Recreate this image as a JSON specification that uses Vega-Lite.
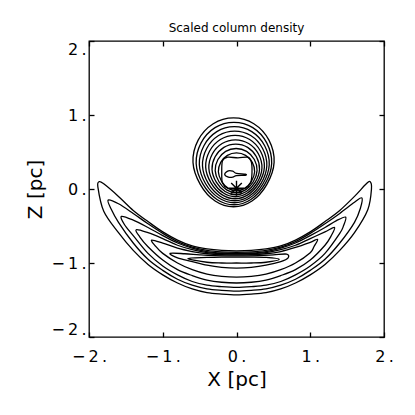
{
"$schema": "https://vega.github.io/schema/vega-lite/v6.json",
"width": 295, "height": 296,
"autosize": "none",
"padding": {"left": 89, "top": 41, "right": 31, "bottom": 78},
"background": "white",
"title": {"text": "Scaled column density", "font": "DejaVu Sans", "fontSize": 12, "fontWeight": "normal", "color": "black", "offset": 5},
"config": {
  "view": {"stroke": "black", "strokeWidth": 1.3},
  "axis": {"grid": false, "domain": false, "tickColor": "black", "tickWidth": 1.3, "tickSize": -5, "labelColor": "black", "labelFont": "DejaVu Sans", "labelFontSize": 16, "titleFont": "DejaVu Sans", "titleFontSize": 20, "titleFontWeight": "normal", "titleColor": "black", "labelOverlap": false, "labelBound": false}
},
"resolve": {"axis": {"x": "independent", "y": "independent"}},
"layer": [
{
"data": {"values": [
{"g":"b0","i":0,"x":0.51,"z":0.36},{"g":"b0","i":1,"x":0.44,"z":0.66},{"g":"b0","i":2,"x":0.235,"z":0.882},{"g":"b0","i":3,"x":-0.04,"z":0.96},{"g":"b0","i":4,"x":-0.315,"z":0.882},{"g":"b0","i":5,"x":-0.52,"z":0.66},{"g":"b0","i":6,"x":-0.59,"z":0.36},{"g":"b0","i":7,"x":-0.49,"z":0.06},{"g":"b0","i":8,"x":-0.29,"z":-0.162},{"g":"b0","i":9,"x":-0.04,"z":-0.24},{"g":"b0","i":10,"x":0.21,"z":-0.162},{"g":"b0","i":11,"x":0.41,"z":0.06},
{"g":"b1","i":0,"x":0.477,"z":0.344},{"g":"b1","i":1,"x":0.41,"z":0.623},{"g":"b1","i":2,"x":0.221,"z":0.829},{"g":"b1","i":3,"x":-0.035,"z":0.901},{"g":"b1","i":4,"x":-0.291,"z":0.829},{"g":"b1","i":5,"x":-0.48,"z":0.623},{"g":"b1","i":6,"x":-0.547,"z":0.344},{"g":"b1","i":7,"x":-0.455,"z":0.065},{"g":"b1","i":8,"x":-0.265,"z":-0.141},{"g":"b1","i":9,"x":-0.035,"z":-0.213},{"g":"b1","i":10,"x":0.195,"z":-0.141},{"g":"b1","i":11,"x":0.385,"z":0.065},
{"g":"b2","i":0,"x":0.444,"z":0.328},{"g":"b2","i":1,"x":0.382,"z":0.585},{"g":"b2","i":2,"x":0.207,"z":0.775},{"g":"b2","i":3,"x":-0.03,"z":0.842},{"g":"b2","i":4,"x":-0.267,"z":0.775},{"g":"b2","i":5,"x":-0.442,"z":0.585},{"g":"b2","i":6,"x":-0.504,"z":0.328},{"g":"b2","i":7,"x":-0.419,"z":0.071},{"g":"b2","i":8,"x":-0.243,"z":-0.119},{"g":"b2","i":9,"x":-0.03,"z":-0.186},{"g":"b2","i":10,"x":0.183,"z":-0.119},{"g":"b2","i":11,"x":0.359,"z":0.071},
{"g":"b3","i":0,"x":0.411,"z":0.312},{"g":"b3","i":1,"x":0.354,"z":0.548},{"g":"b3","i":2,"x":0.193,"z":0.722},{"g":"b3","i":3,"x":-0.025,"z":0.783},{"g":"b3","i":4,"x":-0.243,"z":0.722},{"g":"b3","i":5,"x":-0.404,"z":0.548},{"g":"b3","i":6,"x":-0.461,"z":0.312},{"g":"b3","i":7,"x":-0.383,"z":0.076},{"g":"b3","i":8,"x":-0.221,"z":-0.098},{"g":"b3","i":9,"x":-0.025,"z":-0.159},{"g":"b3","i":10,"x":0.171,"z":-0.098},{"g":"b3","i":11,"x":0.333,"z":0.076},
{"g":"b4","i":0,"x":0.378,"z":0.296},{"g":"b4","i":1,"x":0.326,"z":0.51},{"g":"b4","i":2,"x":0.179,"z":0.668},{"g":"b4","i":3,"x":-0.02,"z":0.724},{"g":"b4","i":4,"x":-0.219,"z":0.668},{"g":"b4","i":5,"x":-0.366,"z":0.51},{"g":"b4","i":6,"x":-0.418,"z":0.296},{"g":"b4","i":7,"x":-0.346,"z":0.082},{"g":"b4","i":8,"x":-0.199,"z":-0.076},{"g":"b4","i":9,"x":-0.02,"z":-0.132},{"g":"b4","i":10,"x":0.159,"z":-0.076},{"g":"b4","i":11,"x":0.306,"z":0.082},
{"g":"b5","i":0,"x":0.345,"z":0.28},{"g":"b5","i":1,"x":0.298,"z":0.473},{"g":"b5","i":2,"x":0.165,"z":0.615},{"g":"b5","i":3,"x":-0.015,"z":0.665},{"g":"b5","i":4,"x":-0.195,"z":0.615},{"g":"b5","i":5,"x":-0.328,"z":0.473},{"g":"b5","i":6,"x":-0.375,"z":0.28},{"g":"b5","i":7,"x":-0.31,"z":0.087},{"g":"b5","i":8,"x":-0.177,"z":-0.055},{"g":"b5","i":9,"x":-0.015,"z":-0.105},{"g":"b5","i":10,"x":0.147,"z":-0.055},{"g":"b5","i":11,"x":0.28,"z":0.087},
{"g":"b6","i":0,"x":0.312,"z":0.264},{"g":"b6","i":1,"x":0.27,"z":0.435},{"g":"b6","i":2,"x":0.151,"z":0.562},{"g":"b6","i":3,"x":-0.01,"z":0.606},{"g":"b6","i":4,"x":-0.171,"z":0.562},{"g":"b6","i":5,"x":-0.29,"z":0.435},{"g":"b6","i":6,"x":-0.332,"z":0.264},{"g":"b6","i":7,"x":-0.274,"z":0.093},{"g":"b6","i":8,"x":-0.155,"z":-0.034},{"g":"b6","i":9,"x":-0.01,"z":-0.078},{"g":"b6","i":10,"x":0.135,"z":-0.034},{"g":"b6","i":11,"x":0.254,"z":0.093},
{"g":"b7","i":0,"x":0.279,"z":0.248},{"g":"b7","i":1,"x":0.242,"z":0.398},{"g":"b7","i":2,"x":0.137,"z":0.508},{"g":"b7","i":3,"x":-0.005,"z":0.547},{"g":"b7","i":4,"x":-0.147,"z":0.508},{"g":"b7","i":5,"x":-0.252,"z":0.398},{"g":"b7","i":6,"x":-0.289,"z":0.248},{"g":"b7","i":7,"x":-0.238,"z":0.098},{"g":"b7","i":8,"x":-0.133,"z":-0.012},{"g":"b7","i":9,"x":-0.005,"z":-0.051},{"g":"b7","i":10,"x":0.123,"z":-0.012},{"g":"b7","i":11,"x":0.228,"z":0.098},
{"g":"b8","i":0,"x":0.246,"z":0.232},{"g":"b8","i":1,"x":0.214,"z":0.36},{"g":"b8","i":2,"x":0.123,"z":0.455},{"g":"b8","i":3,"x":0.0,"z":0.488},{"g":"b8","i":4,"x":-0.123,"z":0.455},{"g":"b8","i":5,"x":-0.214,"z":0.36},{"g":"b8","i":6,"x":-0.246,"z":0.232},{"g":"b8","i":7,"x":-0.202,"z":0.104},{"g":"b8","i":8,"x":-0.111,"z":0.009},{"g":"b8","i":9,"x":0.0,"z":-0.024},{"g":"b8","i":10,"x":0.111,"z":0.009},{"g":"b8","i":11,"x":0.202,"z":0.104},
{"g":"b9","i":0,"x":0.21,"z":0.22},{"g":"b9","i":1,"x":0.2,"z":0.37},{"g":"b9","i":2,"x":0.15,"z":0.43},{"g":"b9","i":3,"x":0.02,"z":0.42},{"g":"b9","i":4,"x":-0.12,"z":0.43},{"g":"b9","i":5,"x":-0.19,"z":0.38},{"g":"b9","i":6,"x":-0.2,"z":0.22},{"g":"b9","i":7,"x":-0.19,"z":0.08},{"g":"b9","i":8,"x":-0.12,"z":0.01},{"g":"b9","i":9,"x":0.0,"z":0.0},{"g":"b9","i":10,"x":0.12,"z":0.01},{"g":"b9","i":11,"x":0.19,"z":0.08},
{"g":"b10","i":0,"x":0.12,"z":0.2},{"g":"b10","i":1,"x":0.0,"z":0.21},{"g":"b10","i":2,"x":-0.05,"z":0.24},{"g":"b10","i":3,"x":-0.11,"z":0.245},{"g":"b10","i":4,"x":-0.16,"z":0.2},{"g":"b10","i":5,"x":-0.11,"z":0.16},{"g":"b10","i":6,"x":-0.05,"z":0.16},{"g":"b10","i":7,"x":0.0,"z":0.18},{"g":"b10","i":8,"x":0.12,"z":0.185},
{"g":"c1","i":0,"x":-1.86,"z":0.1},{"g":"c1","i":1,"x":-1.8,"z":0.07},{"g":"c1","i":2,"x":-1.6,"z":-0.1},{"g":"c1","i":3,"x":-1.4,"z":-0.29},{"g":"c1","i":4,"x":-1.2,"z":-0.44},{"g":"c1","i":5,"x":-1.0,"z":-0.58},{"g":"c1","i":6,"x":-0.8,"z":-0.69},{"g":"c1","i":7,"x":-0.6,"z":-0.77},{"g":"c1","i":8,"x":-0.4,"z":-0.81},{"g":"c1","i":9,"x":-0.2,"z":-0.83},{"g":"c1","i":10,"x":0.0,"z":-0.835},{"g":"c1","i":11,"x":0.2,"z":-0.83},{"g":"c1","i":12,"x":0.4,"z":-0.81},{"g":"c1","i":13,"x":0.6,"z":-0.77},{"g":"c1","i":14,"x":0.8,"z":-0.69},{"g":"c1","i":15,"x":1.0,"z":-0.58},{"g":"c1","i":16,"x":1.2,"z":-0.44},{"g":"c1","i":17,"x":1.4,"z":-0.29},{"g":"c1","i":18,"x":1.6,"z":-0.1},{"g":"c1","i":19,"x":1.75,"z":0.06},{"g":"c1","i":20,"x":1.81,"z":0.1},{"g":"c1","i":21,"x":1.83,"z":0.0},{"g":"c1","i":22,"x":1.78,"z":-0.28},{"g":"c1","i":23,"x":1.6,"z":-0.59},{"g":"c1","i":24,"x":1.4,"z":-0.83},{"g":"c1","i":25,"x":1.2,"z":-1.02},{"g":"c1","i":26,"x":1.0,"z":-1.16},{"g":"c1","i":27,"x":0.8,"z":-1.27},{"g":"c1","i":28,"x":0.6,"z":-1.35},{"g":"c1","i":29,"x":0.4,"z":-1.4},{"g":"c1","i":30,"x":0.2,"z":-1.42},{"g":"c1","i":31,"x":0.0,"z":-1.43},{"g":"c1","i":32,"x":-0.2,"z":-1.42},{"g":"c1","i":33,"x":-0.4,"z":-1.4},{"g":"c1","i":34,"x":-0.6,"z":-1.35},{"g":"c1","i":35,"x":-0.8,"z":-1.27},{"g":"c1","i":36,"x":-1.0,"z":-1.16},{"g":"c1","i":37,"x":-1.2,"z":-1.02},{"g":"c1","i":38,"x":-1.4,"z":-0.83},{"g":"c1","i":39,"x":-1.6,"z":-0.59},{"g":"c1","i":40,"x":-1.8,"z":-0.3},{"g":"c1","i":41,"x":-1.88,"z":0.03},
{"g":"c2","i":0,"x":-1.74,"z":-0.15},{"g":"c2","i":1,"x":-1.6,"z":-0.2},{"g":"c2","i":2,"x":-1.4,"z":-0.33},{"g":"c2","i":3,"x":-1.2,"z":-0.47},{"g":"c2","i":4,"x":-1.0,"z":-0.6},{"g":"c2","i":5,"x":-0.8,"z":-0.71},{"g":"c2","i":6,"x":-0.6,"z":-0.785},{"g":"c2","i":7,"x":-0.4,"z":-0.83},{"g":"c2","i":8,"x":-0.2,"z":-0.85},{"g":"c2","i":9,"x":0.0,"z":-0.855},{"g":"c2","i":10,"x":0.2,"z":-0.85},{"g":"c2","i":11,"x":0.4,"z":-0.83},{"g":"c2","i":12,"x":0.6,"z":-0.785},{"g":"c2","i":13,"x":0.8,"z":-0.71},{"g":"c2","i":14,"x":1.0,"z":-0.6},{"g":"c2","i":15,"x":1.2,"z":-0.47},{"g":"c2","i":16,"x":1.4,"z":-0.33},{"g":"c2","i":17,"x":1.6,"z":-0.18},{"g":"c2","i":18,"x":1.7,"z":-0.12},{"g":"c2","i":19,"x":1.68,"z":-0.26},{"g":"c2","i":20,"x":1.6,"z":-0.45},{"g":"c2","i":21,"x":1.4,"z":-0.73},{"g":"c2","i":22,"x":1.2,"z":-0.95},{"g":"c2","i":23,"x":1.0,"z":-1.1},{"g":"c2","i":24,"x":0.8,"z":-1.22},{"g":"c2","i":25,"x":0.6,"z":-1.3},{"g":"c2","i":26,"x":0.4,"z":-1.35},{"g":"c2","i":27,"x":0.2,"z":-1.37},{"g":"c2","i":28,"x":0.0,"z":-1.38},{"g":"c2","i":29,"x":-0.2,"z":-1.37},{"g":"c2","i":30,"x":-0.4,"z":-1.35},{"g":"c2","i":31,"x":-0.6,"z":-1.3},{"g":"c2","i":32,"x":-0.8,"z":-1.22},{"g":"c2","i":33,"x":-1.0,"z":-1.1},{"g":"c2","i":34,"x":-1.2,"z":-0.95},{"g":"c2","i":35,"x":-1.4,"z":-0.73},{"g":"c2","i":36,"x":-1.6,"z":-0.45},{"g":"c2","i":37,"x":-1.7,"z":-0.27},
{"g":"c3","i":0,"x":-1.56,"z":-0.37},{"g":"c3","i":1,"x":-1.4,"z":-0.42},{"g":"c3","i":2,"x":-1.2,"z":-0.52},{"g":"c3","i":3,"x":-1.0,"z":-0.63},{"g":"c3","i":4,"x":-0.8,"z":-0.73},{"g":"c3","i":5,"x":-0.6,"z":-0.8},{"g":"c3","i":6,"x":-0.4,"z":-0.845},{"g":"c3","i":7,"x":-0.2,"z":-0.865},{"g":"c3","i":8,"x":0.0,"z":-0.87},{"g":"c3","i":9,"x":0.2,"z":-0.865},{"g":"c3","i":10,"x":0.4,"z":-0.845},{"g":"c3","i":11,"x":0.6,"z":-0.8},{"g":"c3","i":12,"x":0.8,"z":-0.73},{"g":"c3","i":13,"x":1.0,"z":-0.63},{"g":"c3","i":14,"x":1.2,"z":-0.52},{"g":"c3","i":15,"x":1.35,"z":-0.43},{"g":"c3","i":16,"x":1.48,"z":-0.38},{"g":"c3","i":17,"x":1.45,"z":-0.5},{"g":"c3","i":18,"x":1.4,"z":-0.6},{"g":"c3","i":19,"x":1.2,"z":-0.87},{"g":"c3","i":20,"x":1.0,"z":-1.04},{"g":"c3","i":21,"x":0.8,"z":-1.16},{"g":"c3","i":22,"x":0.6,"z":-1.25},{"g":"c3","i":23,"x":0.4,"z":-1.3},{"g":"c3","i":24,"x":0.2,"z":-1.32},{"g":"c3","i":25,"x":0.0,"z":-1.33},{"g":"c3","i":26,"x":-0.2,"z":-1.32},{"g":"c3","i":27,"x":-0.4,"z":-1.3},{"g":"c3","i":28,"x":-0.6,"z":-1.25},{"g":"c3","i":29,"x":-0.8,"z":-1.16},{"g":"c3","i":30,"x":-1.0,"z":-1.04},{"g":"c3","i":31,"x":-1.2,"z":-0.87},{"g":"c3","i":32,"x":-1.4,"z":-0.63},{"g":"c3","i":33,"x":-1.52,"z":-0.48},
{"g":"c4","i":0,"x":-1.36,"z":-0.55},{"g":"c4","i":1,"x":-1.2,"z":-0.59},{"g":"c4","i":2,"x":-1.0,"z":-0.67},{"g":"c4","i":3,"x":-0.8,"z":-0.76},{"g":"c4","i":4,"x":-0.6,"z":-0.82},{"g":"c4","i":5,"x":-0.4,"z":-0.86},{"g":"c4","i":6,"x":-0.2,"z":-0.875},{"g":"c4","i":7,"x":0.0,"z":-0.88},{"g":"c4","i":8,"x":0.2,"z":-0.875},{"g":"c4","i":9,"x":0.4,"z":-0.86},{"g":"c4","i":10,"x":0.6,"z":-0.82},{"g":"c4","i":11,"x":0.8,"z":-0.76},{"g":"c4","i":12,"x":1.0,"z":-0.67},{"g":"c4","i":13,"x":1.2,"z":-0.58},{"g":"c4","i":14,"x":1.33,"z":-0.52},{"g":"c4","i":15,"x":1.28,"z":-0.64},{"g":"c4","i":16,"x":1.2,"z":-0.76},{"g":"c4","i":17,"x":1.0,"z":-0.96},{"g":"c4","i":18,"x":0.8,"z":-1.09},{"g":"c4","i":19,"x":0.6,"z":-1.17},{"g":"c4","i":20,"x":0.4,"z":-1.23},{"g":"c4","i":21,"x":0.2,"z":-1.26},{"g":"c4","i":22,"x":0.0,"z":-1.27},{"g":"c4","i":23,"x":-0.2,"z":-1.26},{"g":"c4","i":24,"x":-0.4,"z":-1.23},{"g":"c4","i":25,"x":-0.6,"z":-1.17},{"g":"c4","i":26,"x":-0.8,"z":-1.09},{"g":"c4","i":27,"x":-1.0,"z":-0.96},{"g":"c4","i":28,"x":-1.2,"z":-0.78},{"g":"c4","i":29,"x":-1.31,"z":-0.65},
{"g":"c5","i":0,"x":-1.15,"z":-0.69},{"g":"c5","i":1,"x":-1.0,"z":-0.73},{"g":"c5","i":2,"x":-0.8,"z":-0.8},{"g":"c5","i":3,"x":-0.6,"z":-0.845},{"g":"c5","i":4,"x":-0.4,"z":-0.875},{"g":"c5","i":5,"x":-0.2,"z":-0.888},{"g":"c5","i":6,"x":0.0,"z":-0.89},{"g":"c5","i":7,"x":0.2,"z":-0.888},{"g":"c5","i":8,"x":0.4,"z":-0.875},{"g":"c5","i":9,"x":0.6,"z":-0.845},{"g":"c5","i":10,"x":0.8,"z":-0.79},{"g":"c5","i":11,"x":1.0,"z":-0.72},{"g":"c5","i":12,"x":1.1,"z":-0.68},{"g":"c5","i":13,"x":1.05,"z":-0.78},{"g":"c5","i":14,"x":1.0,"z":-0.86},{"g":"c5","i":15,"x":0.8,"z":-1.0},{"g":"c5","i":16,"x":0.6,"z":-1.09},{"g":"c5","i":17,"x":0.4,"z":-1.15},{"g":"c5","i":18,"x":0.2,"z":-1.18},{"g":"c5","i":19,"x":0.0,"z":-1.19},{"g":"c5","i":20,"x":-0.2,"z":-1.18},{"g":"c5","i":21,"x":-0.4,"z":-1.15},{"g":"c5","i":22,"x":-0.6,"z":-1.09},{"g":"c5","i":23,"x":-0.8,"z":-1.0},{"g":"c5","i":24,"x":-1.0,"z":-0.87},{"g":"c5","i":25,"x":-1.1,"z":-0.77},
{"g":"c6","i":0,"x":-0.9,"z":-0.87},{"g":"c6","i":1,"x":-0.7,"z":-0.875},{"g":"c6","i":2,"x":-0.5,"z":-0.89},{"g":"c6","i":3,"x":-0.3,"z":-0.9},{"g":"c6","i":4,"x":0.0,"z":-0.905},{"g":"c6","i":5,"x":0.3,"z":-0.9},{"g":"c6","i":6,"x":0.5,"z":-0.89},{"g":"c6","i":7,"x":0.68,"z":-0.88},{"g":"c6","i":8,"x":0.7,"z":-0.93},{"g":"c6","i":9,"x":0.6,"z":-0.98},{"g":"c6","i":10,"x":0.4,"z":-1.03},{"g":"c6","i":11,"x":0.2,"z":-1.06},{"g":"c6","i":12,"x":0.0,"z":-1.07},{"g":"c6","i":13,"x":-0.2,"z":-1.06},{"g":"c6","i":14,"x":-0.4,"z":-1.03},{"g":"c6","i":15,"x":-0.6,"z":-0.98},{"g":"c6","i":16,"x":-0.8,"z":-0.93},
{"g":"c7","i":0,"x":-0.66,"z":-0.94},{"g":"c7","i":1,"x":-0.4,"z":-0.925},{"g":"c7","i":2,"x":-0.2,"z":-0.92},{"g":"c7","i":3,"x":0.0,"z":-0.92},{"g":"c7","i":4,"x":0.2,"z":-0.92},{"g":"c7","i":5,"x":0.4,"z":-0.925},{"g":"c7","i":6,"x":0.58,"z":-0.95},{"g":"c7","i":7,"x":0.4,"z":-0.99},{"g":"c7","i":8,"x":0.2,"z":-1.0},{"g":"c7","i":9,"x":0.0,"z":-1.0},{"g":"c7","i":10,"x":-0.2,"z":-1.0},{"g":"c7","i":11,"x":-0.4,"z":-0.99}
]},
"mark": {"type": "line", "interpolate": "cardinal-closed", "stroke": "black", "strokeWidth": 1.3},
"encoding": {
  "x": {"field": "x", "type": "quantitative", "scale": {"domain": [-2, 2], "nice": false, "zero": false},
        "axis": {"orient": "bottom", "values": [-2, -1, 0, 1, 2], "labelExpr": "join(split(datum.label + '.', ''), '\u2009')", "labelFlush": false, "labelPadding": 16, "title": "X [pc]", "titlePadding": 5}},
  "y": {"field": "z", "type": "quantitative", "scale": {"domain": [-2, 2], "nice": false, "zero": false},
        "axis": {"orient": "left", "values": [-2, -1, 0, 1, 2], "labelExpr": "join(split(datum.label + '.', ''), '\u2009')", "labelFlush": true, "labelPadding": 8, "title": "Z [pc]", "titlePadding": 5}},
  "detail": {"field": "g", "type": "nominal"},
  "order": {"field": "i", "type": "quantitative"}
}
},
{
"data": {"values": [{"x": 0.0, "z": 0.01}]},
"mark": {"type": "point", "shape": "M-1,0L1,0M0,-1L0,1M-0.7,-0.7L0.7,0.7M-0.7,0.7L0.7,-0.7", "filled": false, "stroke": "black", "strokeWidth": 1.4, "size": 230, "opacity": 1},
"encoding": {
  "x": {"field": "x", "type": "quantitative", "scale": {"domain": [-2, 2], "nice": false, "zero": false},
        "axis": {"orient": "top", "values": [-2, -1, 0, 1, 2], "labels": false, "title": null}},
  "y": {"field": "z", "type": "quantitative", "scale": {"domain": [-2, 2], "nice": false, "zero": false},
        "axis": {"orient": "right", "values": [-2, -1, 0, 1, 2], "labels": false, "title": null}}
}
}
]
}
